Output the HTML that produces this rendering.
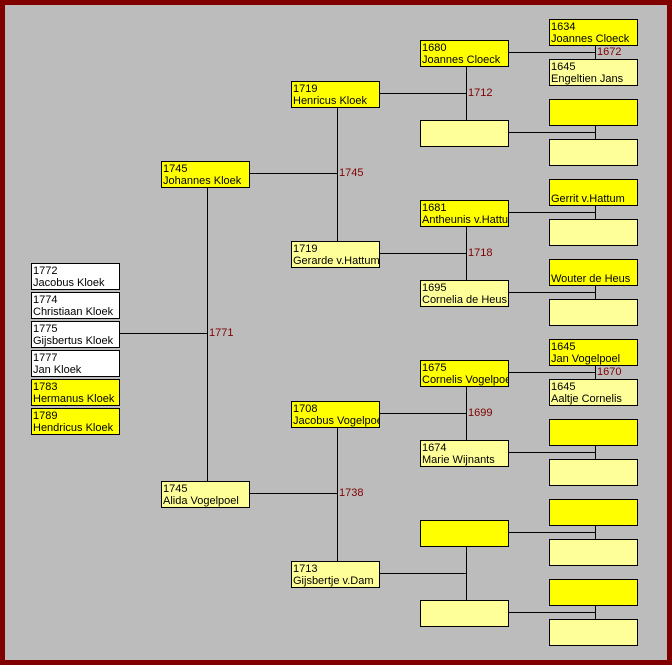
<!DOCTYPE html>
<html><head><meta charset="utf-8"><style>
*{margin:0;padding:0;box-sizing:border-box}
body{width:672px;height:665px;position:relative;overflow:hidden;background:#800000;font-family:"Liberation Sans",sans-serif;font-size:11px}
#bg{position:absolute;left:5px;top:5px;width:662px;height:655px;background-color:#c4c4c4;background-image:radial-gradient(#a8a8a8 0.6px,transparent 0.8px);background-size:2px 2px}
.b{position:absolute;width:89px;height:27px;border:1px solid #000;line-height:12px;padding:1px 0 0 1px;white-space:nowrap;overflow:hidden;color:#000}
.m{background:#ffff00}.f{background:#ffff99}.w{background:#fff}
.h{position:absolute;height:1px;background:#000}
.v{position:absolute;width:1px;background:#000}
.l{position:absolute;color:#800000;font-size:11px;line-height:12px}
</style></head><body><div id="bg"></div>
<!-- children -->
<div class="b w" style="left:31px;top:263px">1772<br>Jacobus Kloek</div>
<div class="b w" style="left:31px;top:292px">1774<br>Christiaan Kloek</div>
<div class="b w" style="left:31px;top:321px">1775<br>Gijsbertus Kloek</div>
<div class="b w" style="left:31px;top:350px">1777<br>Jan Kloek</div>
<div class="b m" style="left:31px;top:379px">1783<br>Hermanus Kloek</div>
<div class="b m" style="left:31px;top:408px">1789<br>Hendricus Kloek</div>
<div class="h" style="left:119px;top:333px;width:88px"></div>
<div class="v" style="left:207px;top:187px;height:294px"></div>
<div class="l" style="left:209px;top:327px">1771</div>
<!-- gen1 -->
<div class="b m" style="left:161px;top:161px">1745<br>Johannes Kloek</div>
<div class="b f" style="left:161px;top:481px">1745<br>Alida Vogelpoel</div>
<div class="h" style="left:249px;top:173px;width:88px"></div>
<div class="v" style="left:337px;top:107px;height:134px"></div>
<div class="l" style="left:339px;top:167px">1745</div>
<div class="h" style="left:249px;top:493px;width:88px"></div>
<div class="v" style="left:337px;top:427px;height:134px"></div>
<div class="l" style="left:339px;top:487px">1738</div>
<!-- gen2 -->
<div class="b m" style="left:291px;top:81px">1719<br>Henricus Kloek</div>
<div class="b f" style="left:291px;top:241px">1719<br>Gerarde v.Hattum</div>
<div class="b m" style="left:291px;top:401px">1708<br>Jacobus Vogelpoel</div>
<div class="b f" style="left:291px;top:561px">1713<br>Gijsbertje v.Dam</div>
<div class="h" style="left:379px;top:93px;width:87px"></div>
<div class="v" style="left:466px;top:66px;height:54px"></div>
<div class="l" style="left:468px;top:87px">1712</div>
<div class="h" style="left:379px;top:253px;width:87px"></div>
<div class="v" style="left:466px;top:226px;height:54px"></div>
<div class="l" style="left:468px;top:247px">1718</div>
<div class="h" style="left:379px;top:413px;width:87px"></div>
<div class="v" style="left:466px;top:386px;height:54px"></div>
<div class="l" style="left:468px;top:407px">1699</div>
<div class="h" style="left:379px;top:573px;width:87px"></div>
<div class="v" style="left:466px;top:546px;height:54px"></div>
<!-- gen3 -->
<div class="b m" style="left:420px;top:40px">1680<br>Joannes Cloeck</div>
<div class="b f" style="left:420px;top:120px"></div>
<div class="b m" style="left:420px;top:200px">1681<br>Antheunis v.Hattum</div>
<div class="b f" style="left:420px;top:280px">1695<br>Cornelia de Heus</div>
<div class="b m" style="left:420px;top:360px">1675<br>Cornelis Vogelpoel</div>
<div class="b f" style="left:420px;top:440px">1674<br>Marie Wijnants</div>
<div class="b m" style="left:420px;top:520px"></div>
<div class="b f" style="left:420px;top:600px"></div>
<!-- gen3 -> gen4 connectors -->
<div class="h" style="left:508px;top:52px;width:87px"></div><div class="v" style="left:595px;top:45px;height:14px"></div><div class="l" style="left:597px;top:46px">1672</div>
<div class="h" style="left:508px;top:132px;width:87px"></div><div class="v" style="left:595px;top:125px;height:14px"></div>
<div class="h" style="left:508px;top:212px;width:87px"></div><div class="v" style="left:595px;top:205px;height:14px"></div>
<div class="h" style="left:508px;top:292px;width:87px"></div><div class="v" style="left:595px;top:285px;height:14px"></div>
<div class="h" style="left:508px;top:372px;width:87px"></div><div class="v" style="left:595px;top:365px;height:14px"></div><div class="l" style="left:597px;top:366px">1670</div>
<div class="h" style="left:508px;top:452px;width:87px"></div><div class="v" style="left:595px;top:445px;height:14px"></div>
<div class="h" style="left:508px;top:532px;width:87px"></div><div class="v" style="left:595px;top:525px;height:14px"></div>
<div class="h" style="left:508px;top:612px;width:87px"></div><div class="v" style="left:595px;top:605px;height:14px"></div>
<!-- gen4 -->
<div class="b m" style="left:549px;top:19px">1634<br>Joannes Cloeck</div>
<div class="b f" style="left:549px;top:59px">1645<br>Engeltien Jans</div>
<div class="b m" style="left:549px;top:99px"></div>
<div class="b f" style="left:549px;top:139px"></div>
<div class="b m" style="left:549px;top:179px"><br>Gerrit v.Hattum</div>
<div class="b f" style="left:549px;top:219px"></div>
<div class="b m" style="left:549px;top:259px"><br>Wouter de Heus</div>
<div class="b f" style="left:549px;top:299px"></div>
<div class="b m" style="left:549px;top:339px">1645<br>Jan Vogelpoel</div>
<div class="b f" style="left:549px;top:379px">1645<br>Aaltje Cornelis</div>
<div class="b m" style="left:549px;top:419px"></div>
<div class="b f" style="left:549px;top:459px"></div>
<div class="b m" style="left:549px;top:499px"></div>
<div class="b f" style="left:549px;top:539px"></div>
<div class="b m" style="left:549px;top:579px"></div>
<div class="b f" style="left:549px;top:619px"></div>
</body></html>
